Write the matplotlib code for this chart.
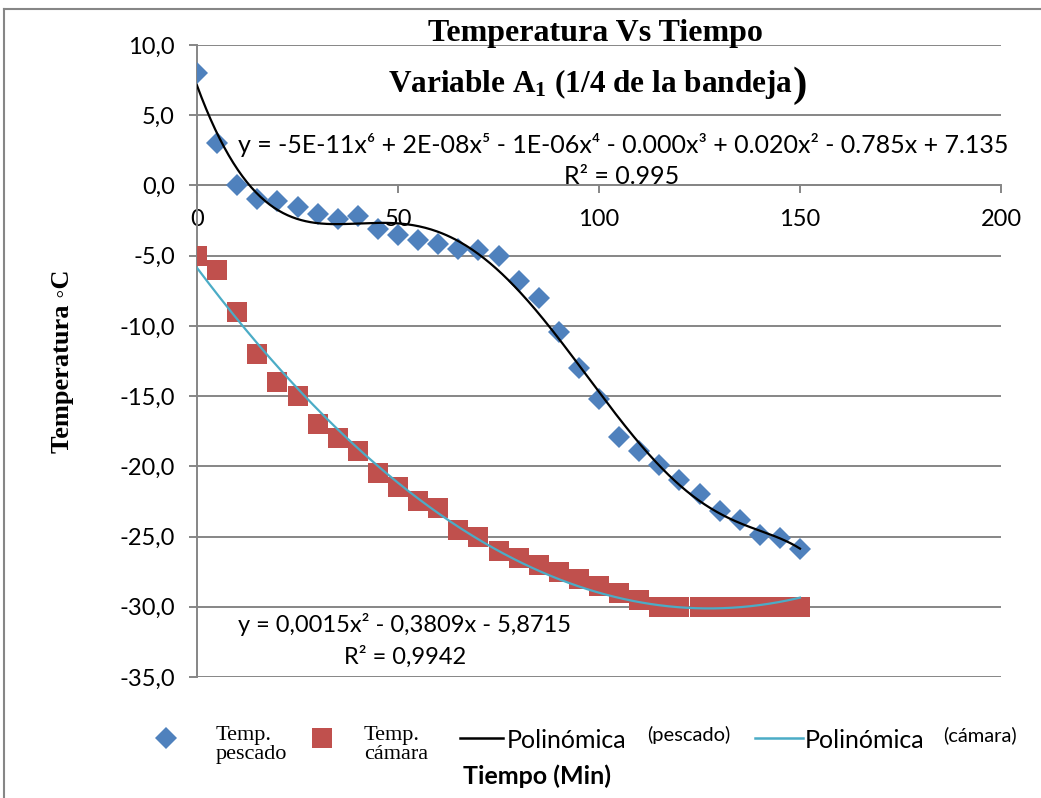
import numpy as np
import matplotlib
matplotlib.use('Agg')
import matplotlib.pyplot as plt
from matplotlib.lines import Line2D
from matplotlib.ticker import FixedLocator, FixedFormatter

# datos
tiempo = [0, 5, 10, 15, 20, 25, 30, 35, 40, 45, 50, 55, 60, 65, 70, 75,
          80, 85, 90, 95, 100, 105, 110, 115, 120, 125, 130, 135, 140, 145, 150]
temp_pescado = [8.0, 3.0, 0.0, -1.0, -1.1, -1.5, -2.0, -2.4, -2.2, -3.1, -3.5,
                -3.9, -4.2, -4.5, -4.6, -5.0, -6.8, -8.0, -10.4, -13.0, -15.2,
                -17.9, -18.9, -19.9, -21.0, -22.0, -23.2, -23.8, -24.9, -25.1, -25.9]
temp_camara = [-5.0, -6.0, -9.0, -12.0, -14.0, -15.0, -17.0, -18.0, -18.9, -20.5,
               -21.5, -22.5, -23.0, -24.5, -25.0, -26.0, -26.5, -27.0, -27.5, -28.0,
               -28.5, -29.0, -29.5, -30.0, -30.0, -30.0, -30.0, -30.0, -30.0, -30.0, -30.0]

x_ticks = [0, 50, 100, 150, 200]
x_labels = ['0', '50', '100', '150', '200']
y_ticks = [10, 5, 0, -5, -10, -15, -20, -25, -30, -35]
y_labels = ['10,0', '5,0', '0,0', '-5,0', '-10,0', '-15,0', '-20,0', '-25,0', '-30,0', '-35,0']

eq_pescado = 'y = -5E-11x⁶ + 2E-08x⁵ - 1E-06x⁴ - 0.000x³ + 0.020x² - 0.785x + 7.135'
r2_pescado = 'R² = 0.995'
eq_camara = 'y = 0,0015x² - 0,3809x - 5,8715'
r2_camara = 'R² = 0,9942'

W, H = 1041, 798
SANS = ['Lato', 'DejaVu Sans']
SERIF = ['Liberation Serif', 'DejaVu Serif']
GRIS = '#868686'
AZUL = '#4F81BD'
ROJO = '#C0504D'
CIAN = '#4BACC6'

plt.rcParams['font.family'] = SANS
plt.rcParams['mathtext.fontset'] = 'custom'
plt.rcParams['mathtext.rm'] = 'Liberation Serif'
plt.rcParams['mathtext.bf'] = 'Liberation Serif:bold'


def fx(px):
    return px / W


def fy(py):
    return 1 - py / H


def main():
    fig = plt.figure(figsize=(W / 100, H / 100), dpi=100)
    ax = fig.add_axes([fx(197), fy(677), fx(1001) - fx(197), fy(45) - fy(677)])

    ax.plot(tiempo, temp_pescado, 'D', color=AZUL, ms=11, mew=0, zorder=3)
    ax.plot(tiempo, temp_camara, 's', color=ROJO, ms=14.5, mew=0, zorder=3)

    # lineas de tendencia (como Excel)
    xs = np.linspace(min(tiempo), max(tiempo), 400)
    p6 = np.polynomial.Polynomial.fit(tiempo, temp_pescado, 6)
    p2 = np.polynomial.Polynomial.fit(tiempo, temp_camara, 2)
    ax.plot(xs, p6(xs), color='black', lw=1.6, zorder=4)
    ax.plot(xs, p2(xs), color=CIAN, lw=1.6, zorder=4)

    ax.set_xlim(0, 200)
    ax.set_ylim(-35, 10)
    ax.xaxis.set_major_locator(FixedLocator(x_ticks))
    ax.xaxis.set_major_formatter(FixedFormatter(x_labels))
    ax.yaxis.set_major_locator(FixedLocator(y_ticks))
    ax.yaxis.set_major_formatter(FixedFormatter(y_labels))

    ax.spines['top'].set_visible(False)
    ax.spines['right'].set_visible(False)
    ax.spines['bottom'].set_position(('data', 0))
    for s in ('bottom', 'left'):
        ax.spines[s].set_color(GRIS)
        ax.spines[s].set_linewidth(1.4)
    ax.grid(axis='y', color=GRIS, lw=1.4)
    ax.set_axisbelow(True)
    ax.tick_params(axis='both', direction='out', length=6, width=1.4, color=GRIS,
                   labelsize=17, labelcolor='black')
    ax.tick_params(axis='x', pad=11)
    ax.tick_params(axis='y', pad=10)

    # titulo
    fig.text(fx(595), fy(34), 'Temperatura Vs Tiempo', family=SERIF, weight='bold',
             fontsize=23, ha='center', va='center')
    t2 = fig.text(fx(388), fy(84), r'Variable $\mathbf{A_1}$ (1/4 de la bandeja',
                  family=SERIF, weight='bold', fontsize=22.5, ha='left', va='center')
    ax.annotate(')', xy=(1, 0.45), xycoords=t2, ha='left', va='center',
                family=SERIF, weight='bold', fontsize=31)

    # ecuaciones
    fig.text(fx(238), fy(145), eq_pescado, fontsize=18, ha='left', va='center')
    fig.text(fx(622), fy(177), r2_pescado, fontsize=18, ha='center', va='center')
    fig.text(fx(238), fy(625), eq_camara, fontsize=17, ha='left', va='center')
    fig.text(fx(405), fy(657), r2_camara, fontsize=17, ha='center', va='center')

    # ejes
    fig.text(fx(63), fy(361), 'Temperatura ◦C', family=SERIF, weight='bold',
             fontsize=19, rotation=90, ha='center', va='center')
    fig.text(fx(537), fy(776), 'Tiempo (Min)', weight='bold', fontsize=18,
             ha='center', va='center')

    # leyenda
    fig.add_artist(Line2D([fx(166)], [fy(738)], marker='D', color=AZUL, ms=11, mew=0))
    fig.add_artist(Line2D([fx(322)], [fy(738)], marker='s', color=ROJO, ms=14.5, mew=0))
    fig.add_artist(Line2D([fx(460), fx(503)], [fy(738), fy(738)], color='black', lw=1.8))
    fig.add_artist(Line2D([fx(755), fx(803)], [fy(738), fy(738)], color=CIAN, lw=1.8))
    fig.text(fx(216), fy(745), 'Temp.\npescado', family=SERIF, fontsize=16,
             linespacing=0.95, ha='left', va='center')
    fig.text(fx(364), fy(745), 'Temp.\ncámara', family=SERIF, fontsize=16,
             linespacing=0.95, ha='left', va='center')
    fig.text(fx(507), fy(740), 'Polinómica', fontsize=18, ha='left', va='center')
    fig.text(fx(647), fy(735), '(pescado)', fontsize=14.5, ha='left', va='center')
    fig.text(fx(805), fy(740), 'Polinómica', fontsize=18, ha='left', va='center')
    fig.text(fx(943), fy(735), '(cámara)', fontsize=14.5, ha='left', va='center')

    # borde del area del grafico
    fig.add_artist(Line2D([fx(4), fx(4)], [0, fy(9)], color=GRIS, lw=1.5))
    fig.add_artist(Line2D([fx(4), 1], [fy(9), fy(9)], color=GRIS, lw=1.5))

    fig.savefig('out.png', dpi=100)


if __name__ == '__main__':
    main()
